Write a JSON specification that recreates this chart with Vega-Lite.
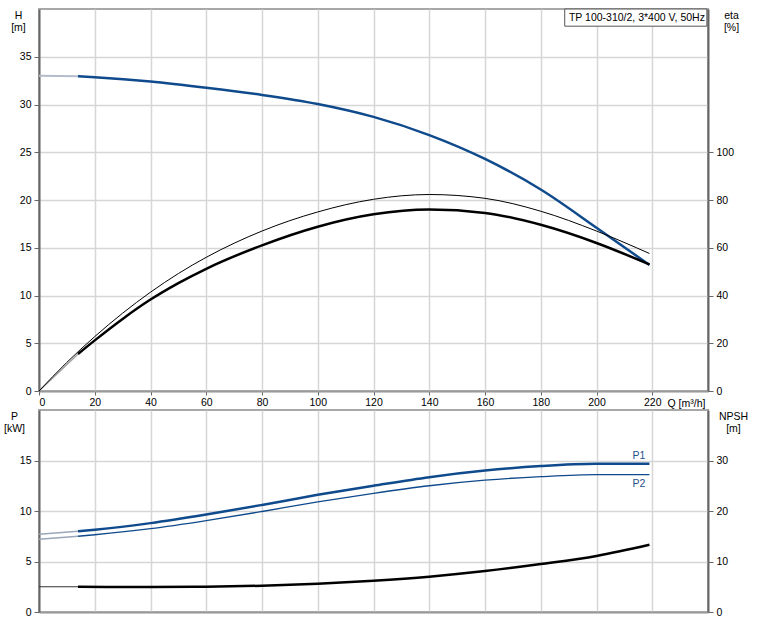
{
  "$schema": "https://vega.github.io/schema/vega-lite/v6.json",
  "padding": {"left": 2, "top": 7, "right": 5, "bottom": 5},
  "background": "white",
  "config": {
    "font": "Liberation Sans",
    "view": {"stroke": "#a8a8a8", "strokeWidth": 2},
    "axis": {
      "labelFont": "Liberation Sans", "labelFontSize": 10.5, "labelColor": "#000",
      "titleFont": "Liberation Sans", "titleFontSize": 10.5, "titleFontWeight": "normal", "titleColor": "#000",
      "gridColor": "#d6d6d6", "gridWidth": 1.5,
      "domainColor": "#666", "domainWidth": 2,
      "tickColor": "#666", "tickSize": 5, "labelPadding": 3
    },
    "concat": {"spacing": 19}
  },
  "datasets": {
    "curves": [
      {"s": "H_ext", "q": 0, "v": 33.0}, {"s": "H_ext", "q": 14, "v": 32.95},
      {"s": "H", "q": 14, "v": 32.95}, {"s": "H", "q": 20, "v": 32.85}, {"s": "H", "q": 40, "v": 32.4},
      {"s": "H", "q": 60, "v": 31.75}, {"s": "H", "q": 80, "v": 31.0}, {"s": "H", "q": 100, "v": 30.05},
      {"s": "H", "q": 120, "v": 28.7}, {"s": "H", "q": 140, "v": 26.8}, {"s": "H", "q": 160, "v": 24.3},
      {"s": "H", "q": 180, "v": 21.1}, {"s": "H", "q": 200, "v": 17.1}, {"s": "H", "q": 219, "v": 13.2},
      {"s": "eta1", "q": 0, "v": 0}, {"s": "eta1", "q": 10, "v": 12}, {"s": "eta1", "q": 20, "v": 22.8},
      {"s": "eta1", "q": 30, "v": 32.6}, {"s": "eta1", "q": 40, "v": 41.4}, {"s": "eta1", "q": 50, "v": 49.2},
      {"s": "eta1", "q": 60, "v": 56}, {"s": "eta1", "q": 80, "v": 67}, {"s": "eta1", "q": 100, "v": 75},
      {"s": "eta1", "q": 120, "v": 80.3}, {"s": "eta1", "q": 140, "v": 82.3}, {"s": "eta1", "q": 160, "v": 80.7},
      {"s": "eta1", "q": 180, "v": 75.3}, {"s": "eta1", "q": 200, "v": 67}, {"s": "eta1", "q": 219, "v": 57.6},
      {"s": "eta2_ext", "q": 0, "v": 0}, {"s": "eta2_ext", "q": 14, "v": 15.5},
      {"s": "eta2", "q": 14, "v": 15.5}, {"s": "eta2", "q": 20, "v": 21.2}, {"s": "eta2", "q": 30, "v": 30.2},
      {"s": "eta2", "q": 40, "v": 38.3}, {"s": "eta2", "q": 50, "v": 45.2}, {"s": "eta2", "q": 60, "v": 51.2},
      {"s": "eta2", "q": 80, "v": 61}, {"s": "eta2", "q": 100, "v": 68.8}, {"s": "eta2", "q": 120, "v": 74},
      {"s": "eta2", "q": 140, "v": 76}, {"s": "eta2", "q": 160, "v": 74.6}, {"s": "eta2", "q": 180, "v": 69.6},
      {"s": "eta2", "q": 200, "v": 62}, {"s": "eta2", "q": 219, "v": 53},
      {"s": "P1_ext", "q": 0, "v": 7.7}, {"s": "P1_ext", "q": 14, "v": 8.0},
      {"s": "P1", "q": 14, "v": 8.0}, {"s": "P1", "q": 20, "v": 8.15}, {"s": "P1", "q": 40, "v": 8.8},
      {"s": "P1", "q": 60, "v": 9.65}, {"s": "P1", "q": 80, "v": 10.6}, {"s": "P1", "q": 100, "v": 11.6},
      {"s": "P1", "q": 120, "v": 12.5}, {"s": "P1", "q": 140, "v": 13.35}, {"s": "P1", "q": 160, "v": 14.0},
      {"s": "P1", "q": 180, "v": 14.45}, {"s": "P1", "q": 200, "v": 14.68}, {"s": "P1", "q": 219, "v": 14.67},
      {"s": "P2_ext", "q": 0, "v": 7.2}, {"s": "P2_ext", "q": 14, "v": 7.5},
      {"s": "P2", "q": 14, "v": 7.5}, {"s": "P2", "q": 20, "v": 7.65}, {"s": "P2", "q": 40, "v": 8.25},
      {"s": "P2", "q": 60, "v": 9.05}, {"s": "P2", "q": 80, "v": 9.95}, {"s": "P2", "q": 100, "v": 10.9},
      {"s": "P2", "q": 120, "v": 11.75}, {"s": "P2", "q": 140, "v": 12.5}, {"s": "P2", "q": 160, "v": 13.05},
      {"s": "P2", "q": 180, "v": 13.4}, {"s": "P2", "q": 200, "v": 13.6}, {"s": "P2", "q": 219, "v": 13.6},
      {"s": "NPSH_ext", "q": 0, "v": 5.0}, {"s": "NPSH_ext", "q": 14, "v": 5.0},
      {"s": "NPSH", "q": 14, "v": 5.0}, {"s": "NPSH", "q": 40, "v": 4.95}, {"s": "NPSH", "q": 60, "v": 5.0},
      {"s": "NPSH", "q": 80, "v": 5.2}, {"s": "NPSH", "q": 100, "v": 5.6}, {"s": "NPSH", "q": 120, "v": 6.2},
      {"s": "NPSH", "q": 140, "v": 7.0}, {"s": "NPSH", "q": 160, "v": 8.1}, {"s": "NPSH", "q": 180, "v": 9.5},
      {"s": "NPSH", "q": 200, "v": 11.1}, {"s": "NPSH", "q": 219, "v": 13.3}
    ],
    "box": [{"q": 188.6, "q2": 239.6, "v": 40, "v2": 38.2, "tq": 238.9, "tv": 39.1, "label": "TP 100-310/2, 3*400 V, 50Hz"}],
    "plabels": [{"q": 215.2, "v": 15.4, "label": "P1"}, {"q": 215.2, "v": 12.7, "label": "P2"}]
  },
  "bounds": "flush",
  "vconcat": [
    {
      "width": 669, "height": 382,
      "encoding": {
        "x": {"field": "q", "type": "quantitative",
          "scale": {"domain": [0, 240], "nice": false, "zero": false},
          "axis": {"values": [0, 20, 40, 60, 80, 100, 120, 140, 160, 180, 200, 220], "grid": true,
            "title": "Q [m³/h]", "titleAlign": "left", "titleBaseline": "middle", "titleX": 628, "titleY": 12,
            "domainColor": "#999", "tickSize": 4, "labelPadding": 2}}
      },
      "layer": [
        {
          "encoding": {
            "y": {"field": "v", "type": "quantitative",
              "scale": {"domain": [0, 40], "nice": false},
              "axis": {"values": [0, 5, 10, 15, 20, 25, 30, 35], "grid": true,
                "title": ["H", "[m]"], "titleAngle": 0, "titleAlign": "center", "titleBaseline": "top",
                "titleX": -21, "titleY": 1, "titleLineHeight": 12}}
          },
          "layer": [
            {"data": {"name": "curves"}, "transform": [{"filter": "datum.s === 'H_ext'"}],
              "mark": {"type": "line", "color": "#b4bccb", "strokeWidth": 2}},
            {"data": {"name": "curves"}, "transform": [{"filter": "datum.s === 'H'"}],
              "mark": {"type": "line", "color": "#0f4a8c", "strokeWidth": 2.5, "interpolate": "monotone"}},
            {"data": {"name": "box"},
              "mark": {"type": "rect", "fill": "white", "stroke": "#555", "strokeWidth": 1},
              "encoding": {"x": {"field": "q", "type": "quantitative"}, "x2": {"field": "q2"}, "y": {"field": "v", "type": "quantitative"}, "y2": {"field": "v2"}}},
            {"data": {"name": "box"},
              "mark": {"type": "text", "align": "right", "baseline": "middle", "font": "Liberation Sans", "fontSize": 10.5, "color": "#000"},
              "encoding": {"x": {"field": "tq", "type": "quantitative"}, "y": {"field": "tv", "type": "quantitative"}, "text": {"field": "label"}}}
          ]
        },
        {
          "encoding": {
            "y": {"field": "v", "type": "quantitative",
              "scale": {"domain": [0, 160], "nice": false},
              "axis": {"orient": "right", "values": [0, 20, 40, 60, 80, 100], "grid": false,
                "title": ["eta", "[%]"], "titleAngle": 0, "titleAlign": "center", "titleBaseline": "top",
                "titleX": 23, "titleY": 1, "titleLineHeight": 12}}
          },
          "layer": [
            {"data": {"name": "curves"}, "transform": [{"filter": "datum.s === 'eta2_ext'"}],
              "mark": {"type": "line", "color": "#a0a0a0", "strokeWidth": 1.5}},
            {"data": {"name": "curves"}, "transform": [{"filter": "datum.s === 'eta1'"}],
              "mark": {"type": "line", "color": "#000", "strokeWidth": 1, "interpolate": "monotone"}},
            {"data": {"name": "curves"}, "transform": [{"filter": "datum.s === 'eta2'"}],
              "mark": {"type": "line", "color": "#000", "strokeWidth": 2.5, "interpolate": "monotone"}}
          ]
        }
      ],
      "resolve": {"scale": {"y": "independent"}}
    },
    {
      "width": 669, "height": 202,
      "encoding": {
        "x": {"field": "q", "type": "quantitative",
          "scale": {"domain": [0, 240], "nice": false, "zero": false},
          "axis": {"values": [0, 20, 40, 60, 80, 100, 120, 140, 160, 180, 200, 220], "grid": true,
            "labels": false, "ticks": false, "title": null, "domainColor": "#999"}}
      },
      "layer": [
        {
          "encoding": {
            "y": {"field": "v", "type": "quantitative",
              "scale": {"domain": [0, 20], "nice": false},
              "axis": {"values": [0, 5, 10, 15], "grid": true,
                "title": ["P", "[kW]"], "titleAngle": 0, "titleAlign": "center", "titleBaseline": "top",
                "titleX": -25, "titleY": 1, "titleLineHeight": 12}}
          },
          "layer": [
            {"data": {"name": "curves"}, "transform": [{"filter": "datum.s === 'P1_ext' || datum.s === 'P2_ext'"}],
              "mark": {"type": "line", "color": "#9aa6ba", "strokeWidth": 1.5},
              "encoding": {"detail": {"field": "s"}}},
            {"data": {"name": "curves"}, "transform": [{"filter": "datum.s === 'P1'"}],
              "mark": {"type": "line", "color": "#0f4a8c", "strokeWidth": 2.5, "interpolate": "monotone"}},
            {"data": {"name": "curves"}, "transform": [{"filter": "datum.s === 'P2'"}],
              "mark": {"type": "line", "color": "#0f4a8c", "strokeWidth": 1.3, "interpolate": "monotone"}},
            {"data": {"name": "plabels"},
              "mark": {"type": "text", "align": "center", "baseline": "middle", "font": "Liberation Sans", "fontSize": 10.5, "color": "#1f4f8a"},
              "encoding": {"text": {"field": "label"}}}
          ]
        },
        {
          "encoding": {
            "y": {"field": "v", "type": "quantitative",
              "scale": {"domain": [0, 40], "nice": false},
              "axis": {"orient": "right", "values": [0, 10, 20, 30], "grid": false,
                "title": ["NPSH", "[m]"], "titleAngle": 0, "titleAlign": "center", "titleBaseline": "top",
                "titleX": 25, "titleY": 1, "titleLineHeight": 12}}
          },
          "layer": [
            {"data": {"name": "curves"}, "transform": [{"filter": "datum.s === 'NPSH_ext'"}],
              "mark": {"type": "line", "color": "#333", "strokeWidth": 1}},
            {"data": {"name": "curves"}, "transform": [{"filter": "datum.s === 'NPSH'"}],
              "mark": {"type": "line", "color": "#000", "strokeWidth": 2.5, "interpolate": "monotone"}}
          ]
        }
      ],
      "resolve": {"scale": {"y": "independent"}}
    }
  ]
}
